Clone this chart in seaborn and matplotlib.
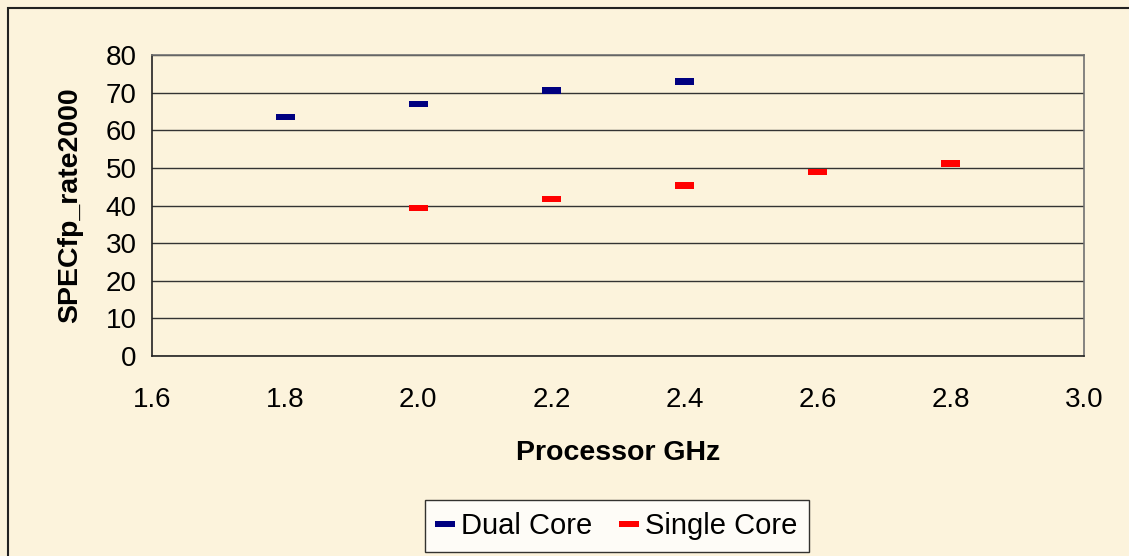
import matplotlib
matplotlib.use("Agg")
import matplotlib.pyplot as plt
import seaborn as sns
import pandas as pd
from matplotlib.patches import Rectangle
from matplotlib.lines import Line2D

dual_ghz = [1.8, 2.0, 2.2, 2.4]
dual_spec = [63.5, 67.0, 70.6, 73.0]
single_ghz = [2.0, 2.2, 2.4, 2.6, 2.8]
single_spec = [39.3, 41.7, 45.3, 48.9, 51.2]
x_ticks = [1.6, 1.8, 2.0, 2.2, 2.4, 2.6, 2.8, 3.0]
y_ticks = [0, 10, 20, 30, 40, 50, 60, 70, 80]

df = pd.concat([
    pd.DataFrame({"GHz": dual_ghz, "SPEC": dual_spec, "Series": "Dual Core"}),
    pd.DataFrame({"GHz": single_ghz, "SPEC": single_spec, "Series": "Single Core"}),
], ignore_index=True)

sns.set_style("white")
plt.rcParams['font.family'] = ['Liberation Sans', 'DejaVu Sans']
plt.rcParams['text.color'] = 'black'
plt.rcParams['axes.labelcolor'] = 'black'

bg = "#FCF3DC"
fig = plt.figure(figsize=(11.29, 5.56), dpi=100)
fig.patch.set_facecolor(bg)
W, H = 1129, 556
ax = fig.add_axes([152 / W, 1 - 356 / H, (1084 - 152) / W, (356 - 55) / H])
ax.set_facecolor(bg)

dash = [(-1.5, -0.5), (1.5, -0.5), (1.5, 0.5), (-1.5, 0.5)]
sns.scatterplot(data=df, x="GHz", y="SPEC", hue="Series",
                palette={"Dual Core": "#000080", "Single Core": "#FF0000"},
                marker=dash, s=190, linewidth=0, ax=ax, legend=False, zorder=3)

ax.set_xlim(1.6, 3.0)
ax.set_ylim(0, 80)
ax.set_xticks(x_ticks)
ax.set_xticklabels([f"{v:.1f}" for v in x_ticks])
ax.set_yticks(y_ticks)
ax.yaxis.grid(True, color="#333333", linewidth=1.0)
ax.set_axisbelow(True)
for s in ["top", "right"]:
    ax.spines[s].set_color("#707070")
    ax.spines[s].set_linewidth(1.2)
for s in ["left", "bottom"]:
    ax.spines[s].set_color("#222222")
    ax.spines[s].set_linewidth(1.2)
ax.tick_params(axis="both", direction="out", length=6, width=1, color="#222222",
               labelsize=20, labelcolor="black")
ax.tick_params(axis="x", pad=16)
ax.tick_params(axis="y", pad=5)
ax.set_xlabel("Processor GHz", fontsize=20.5, fontweight="bold", labelpad=20,
              color="black")
ax.set_ylabel("SPECfp_rate2000", fontsize=20.5, fontweight="bold", labelpad=16,
              color="black")

handles = [Line2D([], [], linestyle="none", marker=dash, markersize=15,
                  markerfacecolor="#000080", markeredgewidth=0),
           Line2D([], [], linestyle="none", marker=dash, markersize=15,
                  markerfacecolor="#FF0000", markeredgewidth=0)]
leg = fig.legend(handles, ["Dual Core", "Single Core"], loc="center",
                 bbox_to_anchor=(617 / W, 1 - 526 / H), ncol=2, fontsize=21,
                 frameon=True, fancybox=False, edgecolor="black",
                 handlelength=0.6, handletextpad=0.25, columnspacing=0.95,
                 borderpad=0.4)
leg.get_frame().set_linewidth(1.0)
leg.get_frame().set_facecolor("white")
for t in leg.get_texts():
    t.set_color("black")

fig.patches.append(Rectangle((8 / W, -0.1), 1.2, 1 - 8 / H + 0.1,
                             transform=fig.transFigure, fill=False,
                             edgecolor="#222222", linewidth=1.5))

fig.savefig("out.png", dpi=100, facecolor=bg)
